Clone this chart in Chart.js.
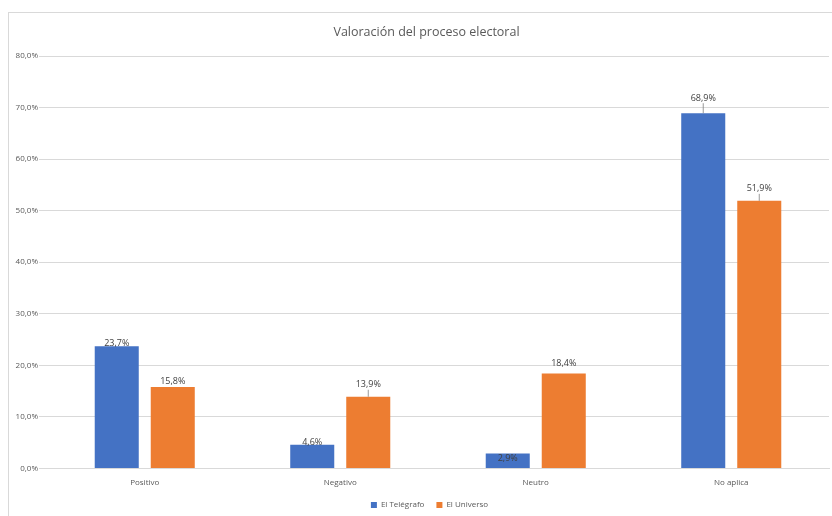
<!DOCTYPE html>
<html>
<head>
<meta charset="utf-8">
<script src="https://cdn.jsdelivr.net/npm/chart.js@4.4.0/dist/chart.umd.min.js"></script>
<style>
  body { margin:0; background:#fff; }
  #frame { position:absolute; left:8px; top:12px; width:900px; height:600px; border-left:1px solid #d9d9d9; border-top:1px solid #d9d9d9; }
  #wrap { position:absolute; left:0; top:0; width:832px; height:516px; }
</style>
</head>
<body>
<div id="frame"></div>
<div id="wrap"><canvas id="myChart"></canvas></div>
<script>
var categories = ['Positivo', 'Negativo', 'Neutro', 'No aplica'];
var seriesNames = ['El Telégrafo', 'El Universo'];
var telegrafo = [23.7, 4.6, 2.9, 68.9];
var universo = [15.8, 13.9, 18.4, 51.9];
var yTicks = [0, 10, 20, 30, 40, 50, 60, 70, 80];

// label offsets from bar top (px), as moved by hand in the original
var labelShift = [[-3, -2, 5, -15], [-6, -12, -10, -12]];

function pct(v) { return v.toFixed(1).replace('.', ',') + '%'; }

var barLabels = {
	id: 'barLabels',
	afterDatasetsDraw: function(chart) {
		var ctx = chart.ctx;
		ctx.save();
		ctx.font = '9px "Open Sans"';
		ctx.fillStyle = '#404040';
		ctx.textAlign = 'center';
		ctx.textBaseline = 'middle';
		chart.data.datasets.forEach(function(ds, di) {
			chart.getDatasetMeta(di).data.forEach(function(bar, i) {
				var dy = labelShift[di][i];
				var ty = bar.y + dy;
				if (dy <= -12) {
					ctx.strokeStyle = '#7f7f7f';
					ctx.lineWidth = 0.8;
					ctx.beginPath();
					ctx.moveTo(bar.x, ty + 5);
					ctx.lineTo(bar.x, bar.y);
					ctx.stroke();
				}
				ctx.fillText(pct(ds.data[i]), bar.x, ty);
			});
		});
		ctx.restore();
	}
};

// the original frame is wider than the window, so title and legend sit right of centre
var shiftBlocks = {
	id: 'shiftBlocks',
	afterLayout: function(chart) {
		chart.titleBlock.left += 12; chart.titleBlock.right += 12;
		chart.legend.left += 15; chart.legend.right += 15;
	}
};

var ctx = document.getElementById('myChart').getContext('2d');
var myChart = new Chart(ctx, {
	type: 'bar',
	data: {
		labels: categories,
		datasets: [
			{ label: seriesNames[0], data: telegrafo, backgroundColor: '#4472C4' },
			{ label: seriesNames[1], data: universo, backgroundColor: '#ED7D31' }
		]
	},
	options: {
		responsive: true,
		maintainAspectRatio: false,
		animation: false,
		categoryPercentage: 0.573,
		barPercentage: 0.786,
		layout: { padding: { left: 0, right: 3, top: 0, bottom: -3 } },
		plugins: {
			title: {
				display: true,
				text: 'Valoración del proceso electoral',
				color: '#595959',
				font: { family: 'Open Sans', size: 12.5, weight: 'normal' },
				padding: { top: 25, bottom: 16 }
			},
			legend: {
				position: 'bottom',
				labels: {
					color: '#595959',
					font: { family: 'Open Sans', size: 8 },
					boxWidth: 6,
					boxHeight: 6,
					padding: 12
				}
			},
			tooltip: { enabled: false }
		},
		scales: {
			x: {
				grid: { display: false },
				border: { color: '#d9d9d9' },
				afterFit: function(axis) { axis.height = axis.height - 1; },
				ticks: { color: '#595959', font: { family: 'Open Sans', size: 8 }, padding: 2 }
			},
			y: {
				min: 0,
				max: 80,
				afterBuildTicks: function(axis) { axis.ticks = yTicks.map(function(v) { return { value: v }; }); },
				afterFit: function(axis) { axis.width = 47; },
				grid: { color: '#d9d9d9' },
				border: { display: false },
				ticks: {
					color: '#595959',
					font: { family: 'Open Sans', size: 8 },
					padding: 1,
					callback: function(v) { return pct(v); }
				}
			}
		}
	},
	plugins: [barLabels, shiftBlocks]
});
</script>
</body>
</html>
